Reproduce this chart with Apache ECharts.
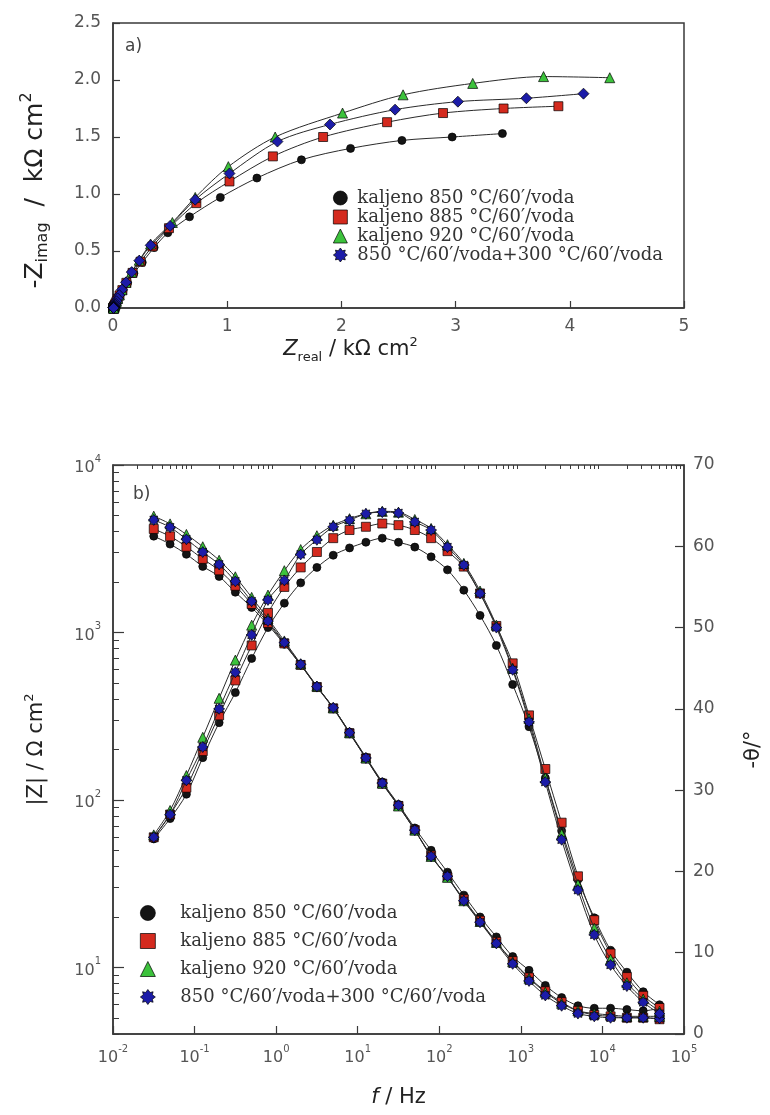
<!DOCTYPE html>
<html><head><meta charset="utf-8">
<script src="https://cdn.jsdelivr.net/npm/echarts@6/dist/echarts.min.js"></script>
<style>html,body{margin:0;padding:0;background:#fff}#c{width:770px;height:1115px}</style>
</head><body><div id="c"></div>
<script>
// ---------- data ----------
const seriesNames = ['kaljeno 850 °C/60′/voda','kaljeno 885 °C/60′/voda','kaljeno 920 °C/60′/voda','850 °C/60′/voda+300 °C/60′/voda'];

// Nyquist (kΩ cm²), low frequency -> high frequency
const nyqRe850 = [3.41,2.97,2.53,2.08,1.65,1.26,0.94,0.67,0.48,0.36,0.256,0.183,0.128,0.089,0.062,0.046,0.034,0.026,0.020,0.016,0.012,0.010,0.0085,0.0076,0.0066,0.006,0.0056,0.0055,0.0056,0.0055,0.0055,0.0057];
const nyqIm850 = [1.53,1.50,1.47,1.40,1.30,1.14,0.97,0.80,0.66,0.53,0.40,0.304,0.22,0.157,0.112,0.082,0.059,0.043,0.031,0.022,0.016,0.011,0.0079,0.0059,0.0041,0.0028,0.0019,0.0014,0.001,0.0007,0.0005,0.0004];
const nyqRe885 = [3.90,3.42,2.89,2.40,1.84,1.40,1.02,0.73,0.49,0.345,0.241,0.171,0.117,0.082,0.057,0.042,0.031,0.0225,0.0176,0.0137,0.0111,0.0091,0.0076,0.0067,0.0061,0.0056,0.0052,0.005,0.005,0.005,0.005,0.0049];
const nyqIm885 = [1.77,1.75,1.71,1.63,1.50,1.33,1.11,0.92,0.70,0.54,0.406,0.308,0.221,0.157,0.111,0.082,0.058,0.0407,0.0297,0.0215,0.0154,0.0109,0.0078,0.0055,0.0039,0.0027,0.0018,0.0013,0.0009,0.0006,0.0004,0.0003];
const nyqRe920 = [4.35,3.77,3.15,2.54,2.01,1.42,1.01,0.72,0.52,0.329,0.23,0.163,0.113,0.078,0.055,0.040,0.0297,0.0215,0.0171,0.0133,0.0109,0.009,0.0076,0.0067,0.0061,0.0055,0.0052,0.0052,0.0051,0.0051,0.0051,0.0051];
const nyqIm920 = [2.02,2.03,1.97,1.87,1.71,1.50,1.24,0.97,0.75,0.561,0.419,0.315,0.225,0.16,0.114,0.083,0.059,0.0407,0.03,0.0212,0.0153,0.0108,0.0076,0.0054,0.0037,0.0025,0.0017,0.0012,0.0008,0.0006,0.0004,0.0002];
const nyqRe300 = [4.12,3.62,3.02,2.47,1.90,1.44,1.02,0.72,0.50,0.33,0.23,0.164,0.114,0.078,0.055,0.041,0.030,0.022,0.0175,0.0134,0.011,0.009,0.0075,0.0065,0.0058,0.0054,0.005,0.005,0.005,0.005,0.005,0.005];
const nyqIm300 = [1.88,1.84,1.81,1.74,1.61,1.46,1.18,0.95,0.72,0.55,0.415,0.315,0.225,0.16,0.113,0.084,0.059,0.041,0.030,0.021,0.015,0.0106,0.0074,0.0052,0.0035,0.0024,0.0016,0.0011,0.0007,0.0005,0.0003,0.0002];

// Bode: frequency (Hz), |Z| (Ω cm²), -θ (°)
const freq = [0.0316,0.0501,0.0794,0.126,0.200,0.316,0.501,0.794,1.26,2.00,3.16,5.01,7.94,12.6,20.0,31.6,50.1,79.4,126,200,316,501,794,1259,1995,3162,5012,7943,12589,19953,31623,50119];
const zmod850 = [3760,3370,2930,2480,2160,1740,1410,1110,850,640,475,355,254,180,128,94,68,50,37,27,20,15.2,11.6,9.6,7.8,6.6,5.9,5.7,5.7,5.6,5.5,5.7];
const zmod885 = [4150,3750,3250,2750,2350,1900,1480,1140,860,640,472,352,250,177,125,92,66,46.5,34.5,25.5,19,14.2,10.9,8.7,7.2,6.2,5.5,5.2,5.1,5.0,5.0,4.9];
const zmod920 = [4950,4450,3850,3250,2700,2150,1620,1210,890,650,478,355,252,178,126,92,66,46,34.5,25,18.8,14.1,10.8,8.6,7.1,6.1,5.5,5.3,5.2,5.1,5.1,5.1];
const zmod300 = [4700,4250,3600,3020,2550,2020,1535,1170,870,645,475,355,252,178,126,93,66,46,35,25,18.6,13.9,10.5,8.3,6.8,5.9,5.3,5.1,5.0,5.0,5.0,4.95];
const phase850 = [24.0,26.5,29.5,34.0,38.3,42.0,46.2,50.0,53.0,55.5,57.4,58.9,59.8,60.5,61.0,60.5,59.9,58.7,57.1,54.6,51.5,47.8,43.0,37.8,31.5,25.0,19.0,14.3,10.3,7.6,5.2,3.6];
const phase885 = [24.2,27.0,30.3,34.8,39.2,43.5,47.8,51.8,55.0,57.4,59.3,61.0,62.0,62.4,62.8,62.6,62.0,61.0,59.4,57.5,54.2,50.2,45.6,39.2,32.6,26.0,19.4,14.0,9.9,7.0,4.7,3.2];
const phase920 = [24.5,27.5,31.8,36.5,41.3,46.0,50.3,54.0,57.0,59.6,61.3,62.6,63.4,64.0,64.3,64.2,63.3,62.2,60.2,57.9,54.5,50.3,45.0,38.8,31.5,24.6,18.4,13.0,9.2,6.3,4.3,2.8];
const phase300 = [24.2,27.0,31.2,35.3,40.0,44.5,49.1,53.4,55.8,59.0,60.8,62.4,63.2,64.0,64.2,64.1,63.0,62.0,59.9,57.7,54.2,50.0,44.8,38.4,31.0,23.9,17.7,12.2,8.5,5.9,3.9,2.5];

// axis ticks
const freqMajorTicks = [0.01,0.1,1,10,100,1000,10000,100000];
const freqMinorTicks = [0.02,0.03,0.04,0.05,0.06,0.07,0.08,0.09,0.2,0.3,0.4,0.5,0.6,0.7,0.8,0.9,2,3,4,5,6,7,8,9,20,30,40,50,60,70,80,90,200,300,400,500,600,700,800,900,2000,3000,4000,5000,6000,7000,8000,9000,20000,30000,40000,50000,60000,70000,80000,90000];
const zMajorTicks = [10,100,1000,10000];
const zMinorTicks = [4,5,6,7,8,9,20,30,40,50,60,70,80,90,200,300,400,500,600,700,800,900,2000,3000,4000,5000,6000,7000,8000,9000];

// ---------- styling ----------
const SANS = 'DejaVu Sans';
const SERIF = 'DejaVu Serif';
const AX = '#3a3a3a';
const LBL = '#555';
const colors = ['#141414','#d42a1e','#3cc23c','#1c1ca8'];
const starPath = 'path://M0,-10 L3,-6 L7,-7 L6,-3 L10,0 L6,3 L7,7 L3,6 L0,10 L-3,6 L-7,7 L-6,3 L-10,0 L-6,-3 L-7,-7 L-3,-6 Z';
const topSymbols = ['circle','rect','triangle','diamond'];
const topSizes = [8,9,10,11];
const botSymbols = ['circle','rect','triangle',starPath];
const botSizes = [8,9,10,11];
const legendIcons = ['circle','rect','triangle',starPath];

const nyqRe = [nyqRe850,nyqRe885,nyqRe920,nyqRe300];
const nyqIm = [nyqIm850,nyqIm885,nyqIm920,nyqIm300];
const zmod = [zmod850,zmod885,zmod920,zmod300];
const phase = [phase850,phase885,phase920,phase300];

function itemStyle(i){ return {color: colors[i], borderColor: '#000', borderWidth: 0.7}; }
const lineStyle = {color:'#2a2a2a', width:1};

const series = [];
seriesNames.forEach((n,i)=>{
  series.push({name:n, type:'line', xAxisIndex:0, yAxisIndex:0,
    data: nyqRe[i].map((x,k)=>[x, nyqIm[i][k]]), smooth:0.3,
    symbol: topSymbols[i], symbolSize: topSizes[i], showAllSymbol:true,
    lineStyle, itemStyle: itemStyle(i), z: 2+i});
});
seriesNames.forEach((n,i)=>{
  series.push({name:n, type:'line', xAxisIndex:1, yAxisIndex:1,
    data: freq.map((f,k)=>[f, zmod[i][k]]), smooth:0.3,
    symbol: botSymbols[i], symbolSize: botSizes[i], showAllSymbol:true,
    lineStyle, itemStyle: itemStyle(i), z: 2+i});
  series.push({name:n, type:'line', xAxisIndex:1, yAxisIndex:2,
    data: freq.map((f,k)=>[f, phase[i][k]]), smooth:0.3,
    symbol: botSymbols[i], symbolSize: botSizes[i], showAllSymbol:true,
    lineStyle, itemStyle: itemStyle(i), z: 2+i});
});

const tickLabel = {color: LBL, fontFamily: SANS, fontSize: 17};
const supRich = {
  b: {color: LBL, fontFamily: SANS, fontSize: 16, lineHeight: 22, verticalAlign: 'bottom'},
  s: {color: LBL, fontFamily: SANS, fontSize: 10, lineHeight: 12, verticalAlign: 'top'}
};
function powLabel(v){ const e = Math.round(Math.log10(v)); return '{b|10}{s|' + e + '}'; }
function makeNameRich(fs){
  return {
    m: {fontFamily: SANS, fontSize: fs, color: '#222', lineHeight: fs+7, verticalAlign: 'middle'},
    i: {fontFamily: SANS, fontSize: fs, color: '#222', fontStyle: 'italic', lineHeight: fs+7, verticalAlign: 'middle'},
    sub: {fontFamily: SANS, fontSize: Math.round(fs*0.62), color: '#222', lineHeight: 12, verticalAlign: 'bottom'},
    sup: {fontFamily: SANS, fontSize: Math.round(fs*0.62), color: '#222', lineHeight: 12, verticalAlign: 'top'},
    sp96: {width: 96},
    sp50: {width: 50}
  };
}

const option = {
  animation: false,
  backgroundColor: '#fff',
  grid: [
    {left:113, top:23, width:571, height:285, show:true, borderColor:AX, borderWidth:1.5, backgroundColor:'transparent', containLabel:false, outerBoundsMode:'none'},
    {left:113, top:465, width:571, height:569, show:true, borderColor:AX, borderWidth:1.5, backgroundColor:'transparent', containLabel:false, outerBoundsMode:'none'}
  ],
  xAxis: [
    {gridIndex:0, type:'value', min:0, max:5, interval:1,
     axisLine:{show:true, lineStyle:{color:AX, width:1.5}},
     axisTick:{show:true, inside:true, length:7, lineStyle:{color:AX, width:1.2}},
     axisLabel:{...tickLabel, margin:10},
     splitLine:{show:false},
     name:'{i|Z}{sub|real}{m| / kΩ cm}{sup|2}{sp96|}', nameLocation:'middle', nameGap:25,
     nameTextStyle:{rich:makeNameRich(21)}},
    {gridIndex:1, type:'log', logBase:10, min:0.01, max:100000,
     axisLine:{show:true, lineStyle:{color:AX, width:1.5}},
     axisTick:{show:true, inside:true, length:8, customValues:freqMajorTicks, lineStyle:{color:AX, width:1.2}},
     axisLabel:{margin:10, customValues:freqMajorTicks, formatter:powLabel, rich:supRich},
     splitLine:{show:false}, minorTick:{show:false},
     name:'{i|f}{m| / Hz}', nameLocation:'middle', nameGap:50,
     nameTextStyle:{rich:makeNameRich(21)}},
    {gridIndex:1, type:'log', logBase:10, min:0.01, max:100000,
     axisLine:{show:false},
     axisTick:{show:true, inside:true, length:4, customValues:freqMinorTicks, lineStyle:{color:AX, width:1}},
     axisLabel:{show:false}, splitLine:{show:false}}
  ],
  yAxis: [
    {gridIndex:0, type:'value', min:0, max:2.5, interval:0.5,
     axisLine:{show:true, lineStyle:{color:AX, width:1.5}},
     axisTick:{show:true, inside:true, length:7, lineStyle:{color:AX, width:1.2}},
     axisLabel:{...tickLabel, margin:12, formatter: v => v.toFixed(1)},
     splitLine:{show:false},
     name:'{m|-Z}{sub|imag}{m|  /  kΩ cm}{sup|2}{sp50|}', nameLocation:'middle', nameGap:62, nameRotate:90,
     nameTextStyle:{rich:makeNameRich(25)}},
    {gridIndex:1, type:'log', logBase:10, min:4, max:10000, position:'left',
     axisLine:{show:true, lineStyle:{color:AX, width:1.5}},
     axisTick:{show:true, inside:true, length:11, customValues:zMajorTicks, lineStyle:{color:AX, width:1.2}},
     axisLabel:{margin:12, customValues:zMajorTicks, formatter:powLabel, rich:supRich},
     splitLine:{show:false}, minorTick:{show:false},
     name:'{m||Z| / Ω cm}{sup|2}', nameLocation:'middle', nameGap:62, nameRotate:90,
     nameTextStyle:{rich:makeNameRich(21)}},
    {gridIndex:1, type:'value', min:0, max:70, interval:10, position:'right',
     axisLine:{show:true, lineStyle:{color:AX, width:1.5}},
     axisTick:{show:true, inside:true, length:9, lineStyle:{color:AX, width:1.2}},
     axisLabel:{...tickLabel, margin:9},
     splitLine:{show:false},
     name:'{m|-θ/°}', nameLocation:'middle', nameGap:56, nameRotate:90,
     nameTextStyle:{rich:makeNameRich(21)}},
    {gridIndex:1, type:'log', logBase:10, min:4, max:10000, position:'left',
     axisLine:{show:false},
     axisTick:{show:true, inside:true, length:6, customValues:zMinorTicks, lineStyle:{color:AX, width:1}},
     axisLabel:{show:false}, splitLine:{show:false}}
  ],
  legend: [
    {orient:'vertical', left:333, top:189, padding:0, itemWidth:14, itemHeight:14, itemGap:1, selectedMode:false,
     textStyle:{fontFamily:SERIF, fontSize:18, color:'#333', padding:[0,0,0,5]},
     data: seriesNames.map((n,i)=>({name:n, icon:legendIcons[i], itemStyle:itemStyle(i)}))},
    {orient:'vertical', left:140, top:904, padding:0, itemWidth:15, itemHeight:15, itemGap:10, selectedMode:false,
     textStyle:{fontFamily:SERIF, fontSize:18, color:'#333', padding:[0,0,0,20]},
     data: seriesNames.map((n,i)=>({name:n, icon:legendIcons[i], itemStyle:itemStyle(i)}))}
  ],
  graphic: [
    {type:'text', left:125, top:38, style:{text:'a)', font:'17px "DejaVu Sans"', fill:'#444'}},
    {type:'text', left:133, top:486, style:{text:'b)', font:'17px "DejaVu Sans"', fill:'#444'}}
  ],
  series
};
const chart = echarts.init(document.getElementById('c'), null, {renderer:'canvas'});
chart.setOption(option);
</script>
</body></html>
